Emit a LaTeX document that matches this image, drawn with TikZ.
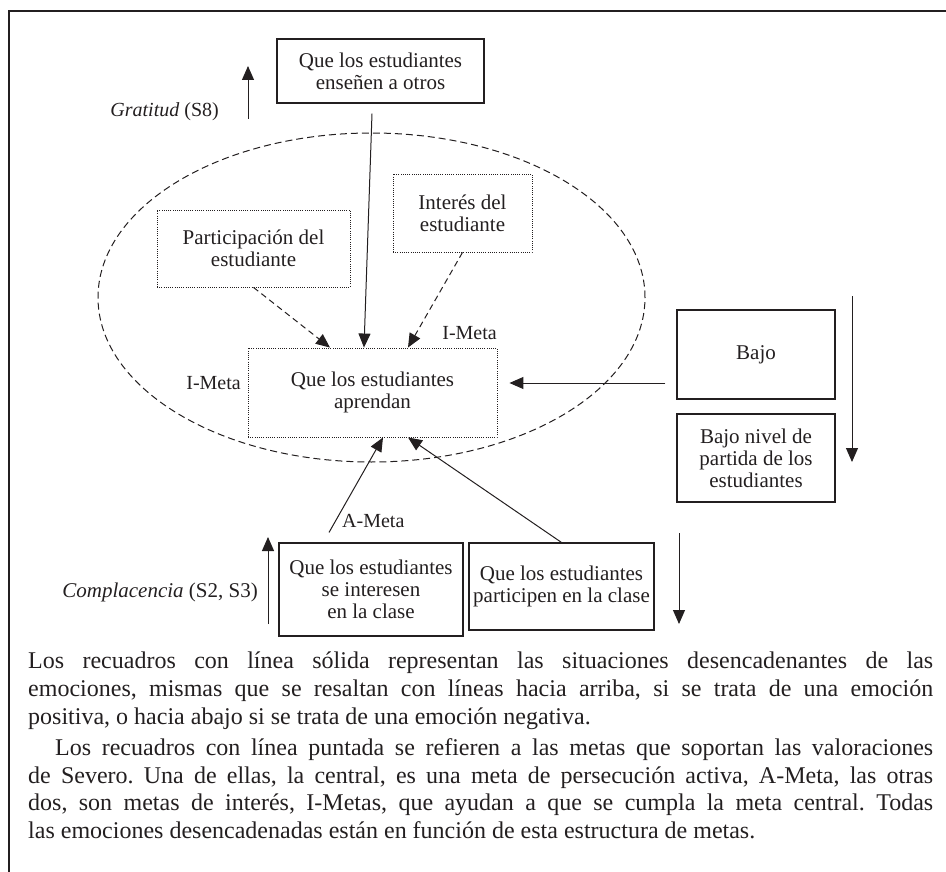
\documentclass[tikz,border=0pt]{standalone}
\usepackage{fontspec}
\setmainfont{Liberation Serif}
\usetikzlibrary{arrows.meta}
\definecolor{ink}{HTML}{231F20}
\newcommand{\diagfont}{\fontsize{21}{22}\selectfont}
\newcommand{\labfont}{\fontsize{20}{22}\selectfont}
\newcommand{\bodyfont}{\fontsize{24}{27.8}\selectfont\frenchspacing}
\begin{document}
\begin{tikzpicture}[x=1pt,y=-1pt,color=ink,
  solidbox/.style={draw,line width=1.1pt,align=center,inner sep=0pt,font=\diagfont},
  dotbox/.style={draw,line width=0.9pt,dash pattern=on 0.9pt off 1.3pt,align=center,inner sep=0pt,font=\diagfont},
  arr/.style={line width=1pt,-{Triangle[length=14pt,width=12pt]}},
  darr/.style={arr,dash pattern=on 6pt off 4pt},
  lab/.style={font=\labfont,inner sep=0pt}]
\useasboundingbox (0,0) rectangle (946,872);
% frame
\draw[line width=1.4pt] (9,872) -- (9,11) -- (946,11);
% ellipse
\draw[line width=1pt,dash pattern=on 7pt off 4pt] (371.5,297.5) ellipse [x radius=273.5pt, y radius=164.5pt];
% boxes
\node[solidbox,minimum width=207pt,minimum height=64pt] (ense) at (380.5,71) {Que los estudiantes\\enseñen a otros};
\node[dotbox,minimum width=193pt,minimum height=77pt] (part) at (253.5,248.5) {Participación del\\estudiante};
\node[dotbox,minimum width=139pt,minimum height=78pt] (inter) at (462.5,213) {Interés del\\estudiante};
\node[dotbox,minimum width=249pt,minimum height=89pt] (apr) at (372.5,392.5) {Que los estudiantes\\aprendan};
\node[solidbox,minimum width=158pt,minimum height=89pt] (bajo) at (756,354.5) {Bajo};
\node[solidbox,minimum width=158pt,minimum height=88pt] (nivel) at (756,458) {Bajo nivel de\\partida de los\\estudiantes};
\node[solidbox,minimum width=184pt,minimum height=93pt] (sei) at (371,589.5) {Que los estudiantes\\se interesen\\en la clase};
\node[solidbox,minimum width=185pt,minimum height=87pt] (pcl) at (561.5,586.5) {Que los estudiantes\\participen en la clase};
% labels
\node[lab,anchor=base east] (grat) at (219,117) {\textit{Gratitud} (S8)};
\node[lab,anchor=base east,font=\fontsize{21}{22}\selectfont] (compl) at (258,597) {\textit{Complacencia} (S2, S3)};
\node[lab,anchor=east] (im1) at (241,383) {I-Meta};
\node[lab,anchor=east] (im2) at (497,333) {I-Meta};
\node[lab,anchor=west] (am) at (342,521) {A-Meta};
% emotion arrows
\coordinate (g1) at (248,119); \coordinate (g2) at (248,66);
\coordinate (c1) at (268,624); \coordinate (c2) at (268,537);
\coordinate (n1) at (679,533); \coordinate (n2) at (679,624);
\coordinate (b1) at (852,296); \coordinate (b2) at (852,462);
\draw[arr] (g1) -- (g2);
\draw[arr] (c1) -- (c2);
\draw[arr] (n1) -- (n2);
\draw[arr] (b1) -- (b2);
% connectors
\draw[arr] ([xshift=-8.5pt,yshift=-10pt]ense.south) -- ([xshift=-8.5pt]apr.north);
\draw[darr] (part.south) -- ([xshift=-42.5pt]apr.north);
\draw[darr] (inter.south) -- ([xshift=35.5pt]apr.north);
\draw[arr] ([xshift=-42pt,yshift=10pt]sei.north) -- ([xshift=10.5pt]apr.south);
\draw[arr] (pcl.north) -- ([xshift=35.5pt]apr.south);
\draw[arr,shorten <=11pt,shorten >=12pt] ([yshift=-28.5pt]bajo.west) -- ([yshift=9.5pt]apr.east);
% body text
\node[anchor=north west,inner sep=0pt,align=left,font=\bodyfont] (body) at (28,652) {%
\makebox[905pt][s]{Los recuadros con línea sólida representan las situaciones desencadenantes de las}\\
\makebox[905pt][s]{emociones, mismas que se resaltan con líneas hacia arriba, si se trata de una emoción}\\
\makebox[905pt][l]{positiva, o hacia abajo si se trata de una emoción negativa.}\\[3pt]
\hspace*{27pt}\makebox[878pt][s]{Los recuadros con línea puntada se refieren a las metas que soportan las valoraciones}\\
\makebox[905pt][s]{de Severo. Una de ellas, la central, es una meta de persecución activa, A-Meta, las otras}\\
\makebox[905pt][s]{dos, son metas de interés, I-Metas, que ayudan a que se cumpla la meta central. Todas}\\
\makebox[905pt][l]{las emociones desencadenadas están en función de esta estructura de metas.}};
\end{tikzpicture}
\end{document}
